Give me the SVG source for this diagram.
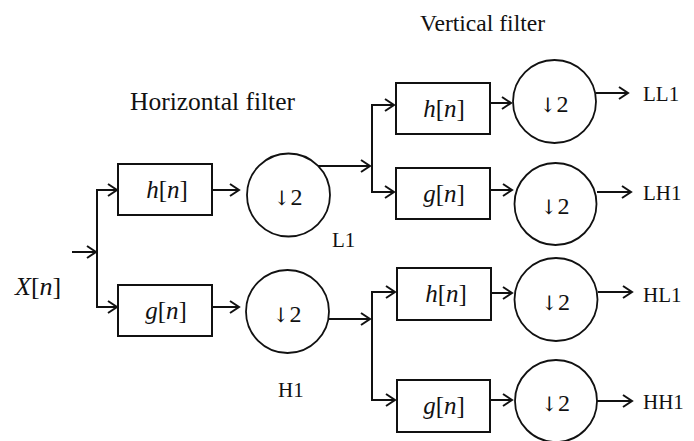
<svg xmlns="http://www.w3.org/2000/svg" width="694" height="441" viewBox="0 0 694 441">
<style>
.bg{fill:#ffffff}
.box{fill:#ffffff;stroke:#111;stroke-width:2}
.ds{fill:#ffffff;stroke:#111;stroke-width:1.8}
.ln{fill:none;stroke:#111;stroke-width:2}
</style>
<defs>
<marker id="ah" viewBox="0 0 12 14" refX="10.5" refY="7" markerWidth="12" markerHeight="14" markerUnits="userSpaceOnUse" orient="auto">
<path d="M1.5,1 L10.5,7 L1.5,13" fill="none" stroke="#111" stroke-width="2"/>
</marker>
</defs>
<rect class="bg" x="0" y="0" width="694" height="441"/>

<g font-family="Liberation Serif, Times New Roman, serif" fill="#111">
<text x="420" y="31" font-size="23.6">Vertical filter</text>
<text x="130" y="110" font-size="25.5">Horizontal filter</text>
</g>

<g id="connectors">
<path class="ln" d="M72,252 H96" marker-end="url(#ah)"/>
<path class="ln" d="M97,252 V190 H117" marker-end="url(#ah)"/>
<path class="ln" d="M97,252 V307 H117" marker-end="url(#ah)"/>
<path class="ln" d="M212,190 H239" marker-end="url(#ah)"/>
<path class="ln" d="M212,307 H239" marker-end="url(#ah)"/>
<path class="ln" d="M318,166 H370" marker-end="url(#ah)"/>
<path class="ln" d="M372,166 V105 H394" marker-end="url(#ah)"/>
<path class="ln" d="M372,166 V192 H394" marker-end="url(#ah)"/>
<path class="ln" d="M329,319 H370" marker-end="url(#ah)"/>
<path class="ln" d="M372,319 V292 H395" marker-end="url(#ah)"/>
<path class="ln" d="M372,319 V400 H395" marker-end="url(#ah)"/>
<path class="ln" d="M490,103 H511" marker-end="url(#ah)"/>
<path class="ln" d="M490,190 H512" marker-end="url(#ah)"/>
<path class="ln" d="M491,293 H512" marker-end="url(#ah)"/>
<path class="ln" d="M490,400 H512" marker-end="url(#ah)"/>
<path class="ln" d="M596,93 H628" marker-end="url(#ah)"/>
<path class="ln" d="M597,192 H631" marker-end="url(#ah)"/>
<path class="ln" d="M598,292 H632" marker-end="url(#ah)"/>
<path class="ln" d="M597,401 H632" marker-end="url(#ah)"/>
</g>

<g font-family="Liberation Serif, Times New Roman, serif" fill="#111">
<g id="input">
<text x="15" y="295" font-size="26"><tspan font-style="italic">X</tspan>[<tspan font-style="italic">n</tspan>]</text>
</g>

<g id="h1box">
<rect class="box" x="118" y="164" width="94" height="51"/>
<text x="167" y="198" font-size="25" text-anchor="middle"><tspan font-style="italic">h</tspan>[<tspan font-style="italic">n</tspan>]</text>
</g>
<g id="g1box">
<rect class="box" x="118" y="285" width="94" height="51"/>
<text x="166" y="319" font-size="25" text-anchor="middle"><tspan font-style="italic">g</tspan>[<tspan font-style="italic">n</tspan>]</text>
</g>

<g id="down-L1">
<circle class="ds" cx="288.5" cy="195" r="41.5"/>
<text x="288" y="205" font-size="24" text-anchor="middle"><tspan font-family="DejaVu Serif, DejaVu Sans" font-size="20">↓</tspan>2</text>
<text x="332" y="247" font-size="21">L1</text>
</g>
<g id="down-H1">
<circle class="ds" cx="287.5" cy="311.5" r="41.5"/>
<text x="287" y="321.5" font-size="24" text-anchor="middle"><tspan font-family="DejaVu Serif, DejaVu Sans" font-size="20">↓</tspan>2</text>
<text x="278" y="397" font-size="21">H1</text>
</g>

<g id="h2box-L">
<rect class="box" x="396" y="83" width="94" height="51"/>
<text x="444" y="117" font-size="25" text-anchor="middle"><tspan font-style="italic">h</tspan>[<tspan font-style="italic">n</tspan>]</text>
</g>
<g id="g2box-L">
<rect class="box" x="396" y="168" width="94" height="51"/>
<text x="444" y="202" font-size="25" text-anchor="middle"><tspan font-style="italic">g</tspan>[<tspan font-style="italic">n</tspan>]</text>
</g>
<g id="h2box-H">
<rect class="box" x="397" y="268" width="94" height="52"/>
<text x="446" y="302" font-size="25" text-anchor="middle"><tspan font-style="italic">h</tspan>[<tspan font-style="italic">n</tspan>]</text>
</g>
<g id="g2box-H">
<rect class="box" x="397" y="380" width="93" height="52"/>
<text x="444" y="414" font-size="25" text-anchor="middle"><tspan font-style="italic">g</tspan>[<tspan font-style="italic">n</tspan>]</text>
</g>

<g id="down-LL1">
<circle class="ds" cx="554.5" cy="101.5" r="41.5"/>
<text x="554" y="111.5" font-size="24" text-anchor="middle"><tspan font-family="DejaVu Serif, DejaVu Sans" font-size="20">↓</tspan>2</text>
<text x="643" y="101" font-size="21">LL1</text>
</g>
<g id="down-LH1">
<circle class="ds" cx="555.5" cy="204" r="41"/>
<text x="555" y="214" font-size="24" text-anchor="middle"><tspan font-family="DejaVu Serif, DejaVu Sans" font-size="20">↓</tspan>2</text>
<text x="643" y="200" font-size="21">LH1</text>
</g>
<g id="down-HL1">
<circle class="ds" cx="556" cy="299.5" r="41.5"/>
<text x="555.5" y="309.5" font-size="24" text-anchor="middle"><tspan font-family="DejaVu Serif, DejaVu Sans" font-size="20">↓</tspan>2</text>
<text x="643" y="302" font-size="21">HL1</text>
</g>
<g id="down-HH1">
<circle class="ds" cx="556" cy="401" r="41"/>
<text x="555.5" y="411" font-size="24" text-anchor="middle"><tspan font-family="DejaVu Serif, DejaVu Sans" font-size="20">↓</tspan>2</text>
<text x="643" y="409" font-size="21">HH1</text>
</g>
</g>
</svg>
